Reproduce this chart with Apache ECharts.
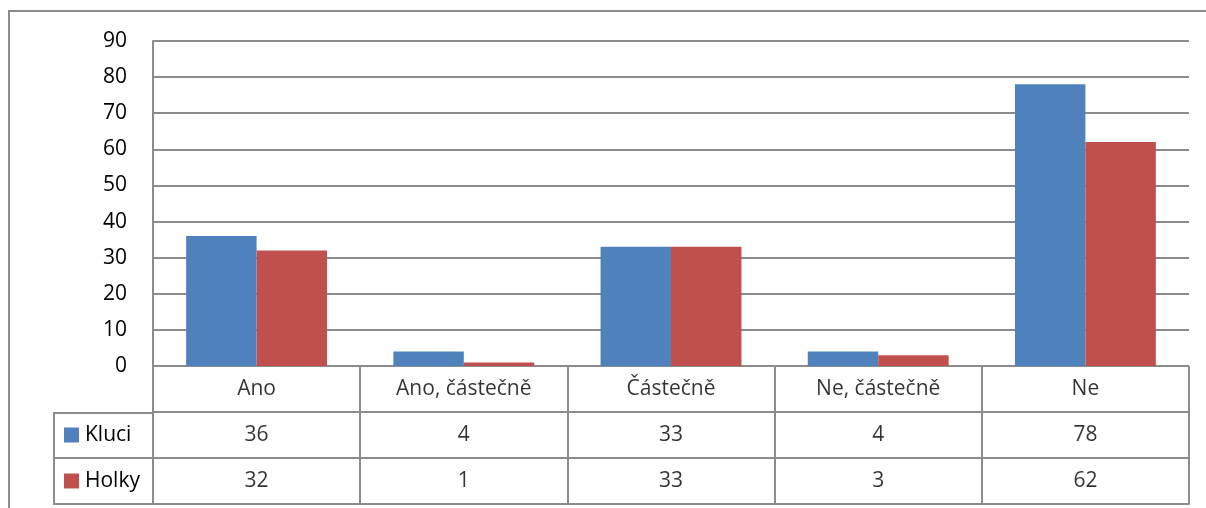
<!DOCTYPE html>
<html>
<head>
<meta charset="utf-8">
<script src="https://cdn.jsdelivr.net/npm/echarts@6/dist/echarts.min.js"></script>
<style>
  html, body { margin: 0; padding: 0; background: #fff; }
  #chart { width: 1206px; height: 508px; }
</style>
</head>
<body>
<div id="chart"></div>
<script>
const categories = ['Ano', 'Ano, částečně', 'Částečně', 'Ne, částečně', 'Ne']
const kluci = [36, 4, 33, 4, 78]
const holky = [32, 1, 33, 3, 62]
const seriesNames = ['Kluci', 'Holky']
const colors = ['#4F81BD', '#C0504D']
const yMax = 90
const yStep = 10

const FONT = 'Open Sans'
const FS = 21
const LINE = '#8c8c8c'

// rows of the data table below the bars
const tableRows = ['Holky', 'Kluci', 'cat']
const tableData = []
categories.forEach((c, i) => {
  tableData.push([c, 'cat', c])
  tableData.push([c, 'Kluci', kluci[i]])
  tableData.push([c, 'Holky', holky[i]])
})

const chart = echarts.init(document.getElementById('chart'))

chart.setOption({
  animation: false,
  textStyle: { fontFamily: FONT, color: '#000' },
  grid: [
    { left: 153, right: 17, top: 41, height: 325 },
    { left: 153, right: 17, top: 366, height: 138 }
  ],
  xAxis: [
    {
      type: 'category', gridIndex: 0, data: categories,
      axisLine: { show: false }, axisTick: { show: false }, axisLabel: { show: false },
      splitLine: { show: false }
    },
    {
      type: 'category', gridIndex: 1, data: categories,
      axisLine: { show: true, lineStyle: { color: LINE, width: 2 } },
      axisTick: { show: false }, axisLabel: { show: false },
      splitLine: { show: true, lineStyle: { color: LINE, width: 2 } }
    }
  ],
  yAxis: [
    {
      type: 'value', gridIndex: 0, min: 0, max: yMax, interval: yStep,
      axisLine: { show: true, lineStyle: { color: LINE, width: 2 } },
      axisTick: { show: false },
      axisLabel: { fontSize: FS, fontFamily: FONT, color: '#000', margin: 26 },
      splitLine: { show: true, lineStyle: { color: LINE, width: 2 } }
    },
    {
      type: 'category', gridIndex: 1, data: tableRows,
      axisLine: { show: true, lineStyle: { color: LINE, width: 2 } },
      axisTick: { show: false },
      axisLabel: {
        align: 'left', margin: 89,
        formatter: v => v === 'cat' ? '' : '{' + (v === 'Kluci' ? 'a' : 'b') + '|}{t|' + v + '}',
        rich: {
          a: { width: 15, height: 15, backgroundColor: colors[0] },
          b: { width: 15, height: 15, backgroundColor: colors[1] },
          t: { fontSize: FS, fontFamily: FONT, color: '#000', padding: [0, 0, 0, 6] }
        }
      },
      splitLine: { show: true, lineStyle: { color: LINE, width: 2 } }
    }
  ],
  series: [
    {
      name: seriesNames[0], type: 'bar', xAxisIndex: 0, yAxisIndex: 0,
      data: kluci, itemStyle: { color: colors[0] },
      barGap: '0%', barCategoryGap: '32%'
    },
    {
      name: seriesNames[1], type: 'bar', xAxisIndex: 0, yAxisIndex: 0,
      data: holky, itemStyle: { color: colors[1] }
    },
    {
      type: 'scatter', xAxisIndex: 1, yAxisIndex: 1,
      data: tableData, symbolSize: 0, silent: true,
      label: {
        show: true, position: 'inside', fontSize: FS, fontFamily: FONT, color: '#000',
        formatter: p => String(p.data[2])
      }
    }
  ],
  graphic: [
    // outer chart frame
    { type: 'rect', shape: { x: 9, y: 11, width: 1210, height: 510 }, style: { fill: 'none', stroke: LINE, lineWidth: 2 }, silent: true },
    // legend column of the table
    { type: 'polyline', shape: { points: [[153, 413], [54, 413], [54, 504], [153, 504]] }, style: { fill: 'none', stroke: LINE, lineWidth: 2 }, silent: true },
    { type: 'line', shape: { x1: 54, y1: 458, x2: 153, y2: 458 }, style: { stroke: LINE, lineWidth: 2 }, silent: true }
  ]
})
</script>
</body>
</html>
